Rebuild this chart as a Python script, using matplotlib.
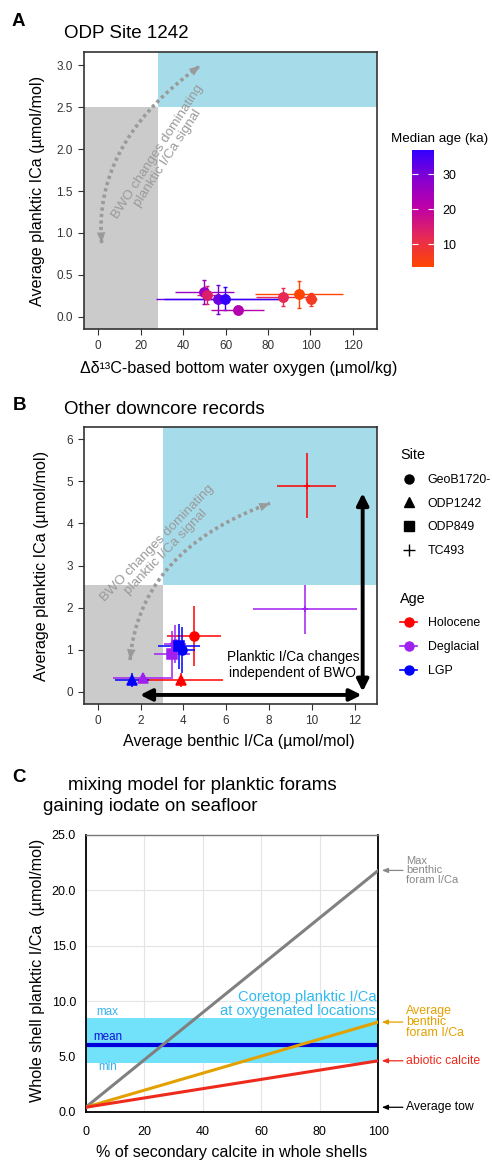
import numpy as np
import matplotlib.pyplot as plt
from matplotlib.colors import LinearSegmentedColormap, Normalize
from matplotlib.cm import ScalarMappable
from matplotlib.lines import Line2D
from matplotlib.patches import Rectangle

plt.rcParams['font.family'] = ['Liberation Sans', 'DejaVu Sans']

W, H = 492, 1160
fig = plt.figure(figsize=(W / 100, H / 100), dpi=100)


def box(l, t, r, b):
    return [l / W, 1 - b / H, (r - l) / W, (b - t) / H]


def fx(px):
    return px / W


def fy(py):
    return 1 - py / H


GRAY = '#cbcbcb'
BLUE = '#a6dcea'
CURVE = '#9a9a9a'
FRAME = '#333333'

# ---- panel A: ODP Site 1242
a_oxygen = [50.0, 51.4, 56.3, 59.9, 65.7, 87.2, 94.6, 100.2]
a_oxygen_err = [14, 5, 29, 29, 12.5, 13, 20.5, 3]
a_ica = [0.30, 0.26, 0.21, 0.22, 0.08, 0.24, 0.27, 0.21]
a_ica_err = [0.14, 0.11, 0.17, 0.14, 0.03, 0.11, 0.16, 0.08]
a_age = [26, 14, 31, 37, 22, 12, 3.5, 7]
a_bwo_thr = 28.2
a_ica_thr = 2.5

# ---- panel B: other downcore records
b_site = ['GeoB1720-', 'GeoB1720-', 'GeoB1720-', 'ODP1242', 'ODP1242', 'ODP1242',
          'ODP849', 'ODP849', 'TC493', 'TC493']
b_age = ['Holocene', 'Deglacial', 'LGP', 'Holocene', 'Deglacial', 'LGP',
         'Deglacial', 'LGP', 'Holocene', 'Deglacial']
b_benthic = [4.50, 3.62, 3.93, 3.87, 2.10, 1.59, 3.46, 3.80, 9.76, 9.69]
b_benthic_err = [1.27, 0.5, 0.6, 2.0, 1.4, 0.8, 0.85, 0.97, 1.37, 2.42]
b_planktic = [1.33, 1.15, 1.00, 0.28, 0.33, 0.28, 0.90, 1.08, 4.90, 1.96]
b_planktic_err = [0.72, 0.45, 0.55, 0.17, 0.1, 0.17, 0.55, 0.53, 0.77, 0.58]
b_benthic_thr = 3.07
b_planktic_thr = 2.55
site_names = ['GeoB1720-', 'ODP1242', 'ODP849', 'TC493']
site_markers = ['o', '^', 's', '+']
age_names = ['Holocene', 'Deglacial', 'LGP']
age_colors = ['#ff0000', '#a020f0', '#0000ff']

# ---- panel C: mixing model
secondary_pct = [0, 100]
tow = 0.4
max_benthic = 21.8
avg_benthic = 8.1
abiotic = 4.6
coretop_min, coretop_mean, coretop_max = 4.43, 6.05, 8.43


def style_box(ax):
    for s in ax.spines.values():
        s.set_color(FRAME)
        s.set_linewidth(1.2)
    ax.tick_params(direction='out', length=4, width=0.8, color=FRAME,
                   labelcolor='#333333', labelsize=8.5, pad=4)


def shade(ax, xthr, ythr):
    x0, x1 = ax.get_xlim()
    y0, y1 = ax.get_ylim()
    ax.add_patch(Rectangle((x0, y0), xthr - x0, ythr - y0, color=GRAY, lw=0, zorder=0))
    ax.add_patch(Rectangle((xthr, ythr), x1 - xthr, y1 - ythr, color=BLUE, lw=0, zorder=0))


def bezier(s, c, e, n=80):
    t = np.linspace(0, 1, n)[:, None]
    return (1 - t) ** 2 * np.array(s) + 2 * t * (1 - t) * np.array(c) + t ** 2 * np.array(e)


def dotted_curve(ax, s, c, e):
    pts = bezier(s, c, e)
    ax.plot(pts[:, 0], pts[:, 1], color=CURVE, lw=2.6, linestyle=(0, (0.9, 0.9)),
            dash_capstyle='butt', zorder=1)
    for a, b in [(pts[4], pts[0]), (pts[-5], pts[-1])]:
        ax.annotate('', xy=b, xytext=a,
                    arrowprops=dict(arrowstyle='-|>,head_length=0.55,head_width=0.22',
                                    color=CURVE, lw=0, mutation_scale=14,
                                    shrinkA=0, shrinkB=0), zorder=1)


# ================= panel A
ax_a = fig.add_axes(box(84, 52, 377, 329))
ax_a.set_xlim(-6.6, 131.3)
ax_a.set_ylim(-0.143, 3.155)
shade(ax_a, a_bwo_thr, a_ica_thr)
style_box(ax_a)
ax_a.set_xticks(range(0, 121, 20))
ax_a.set_yticks(np.arange(0, 3.01, 0.5))
ax_a.set_yticklabels([f'{v:.1f}' for v in np.arange(0, 3.01, 0.5)])

cmap = LinearSegmentedColormap.from_list('age', ['#ff4500', '#e62a55', '#bf00a6', '#8800d0', '#3300ff'])
norm = Normalize(min(a_age), max(a_age))
for x, xe, y, ye, age in zip(a_oxygen, a_oxygen_err, a_ica, a_ica_err, a_age):
    c = cmap(norm(age))
    ax_a.errorbar(x, y, xerr=xe, color=c, lw=1.0, capsize=0, zorder=2)
    ax_a.errorbar(x, y, yerr=ye, color=c, lw=1.0, capsize=1.5, capthick=1.0, zorder=2)
    ax_a.plot(x, y, 'o', color=c, ms=6.8, zorder=3)

dotted_curve(ax_a, (1.7, 0.88), (-2.3, 2.08), (48, 2.99))
ax_a.text(30.5, 1.93, 'BWO changes dominating\nplanktic I/Ca signal', rotation=57,
          ha='center', va='center', color=CURVE, fontsize=9.7, linespacing=1.05,
          rotation_mode='anchor')

cax = fig.add_axes(box(412, 150, 434, 266.7))
cb = fig.colorbar(ScalarMappable(norm, cmap), cax=cax, ticks=[10, 20, 30])
cb.outline.set_visible(False)
cax.yaxis.set_ticks_position('both')
cax.tick_params(direction='in', length=4, width=0.8, color='white',
                labelleft=False, labelright=True, labelsize=9, pad=6)
fig.text(fx(391), fy(139), 'Median age (ka)', fontsize=9.6, va='center', ha='left')

fig.text(fx(12), fy(21), 'A', fontsize=13.5, fontweight='bold', va='center')
fig.text(fx(64), fy(34), 'ODP Site 1242', fontsize=13.5, va='center')
fig.text(fx(37.5), fy(190.5), 'Average planktic ICa (µmol/mol)', rotation=90,
         ha='center', va='center', fontsize=11.6)
fig.text(fx(239), fy(368), 'Δδ¹³C-based bottom water oxygen (µmol/kg)',
         ha='center', va='center', fontsize=11.6)

# ================= panel B
ax_b = fig.add_axes(box(84, 427, 377, 704))
ax_b.set_xlim(-0.64, 13.05)
ax_b.set_ylim(-0.285, 6.29)
shade(ax_b, b_benthic_thr, b_planktic_thr)
style_box(ax_b)
ax_b.set_xticks(range(0, 13, 2))
ax_b.set_yticks(range(0, 7))

for site, age, x, xe, y, ye in zip(b_site, b_age, b_benthic, b_benthic_err,
                                   b_planktic, b_planktic_err):
    c = age_colors[age_names.index(age)]
    m = site_markers[site_names.index(site)]
    ax_b.errorbar(x, y, xerr=xe, yerr=ye, color=c, lw=1.1, capsize=0, zorder=2)
    ax_b.plot(x, y, m, color=c, ms=6.5 if m != '+' else 5, mew=1.1, zorder=3)

dotted_curve(ax_b, (1.51, 0.76), (1.98, 3.36), (8.05, 4.48))
ax_b.text(3.0, 3.42, 'BWO changes dominating\nplanktic I/Ca signal', rotation=46,
          ha='center', va='center', color=CURVE, fontsize=9.7, linespacing=1.05,
          rotation_mode='anchor')

ax_b.annotate('', xy=(1.98, -0.07), xytext=(12.33, -0.07),
              arrowprops=dict(arrowstyle='<|-|>,head_length=0.5,head_width=0.25',
                              color='black', lw=2.8, mutation_scale=14,
                              shrinkA=0, shrinkB=0))
ax_b.annotate('', xy=(12.38, 0.01), xytext=(12.38, 4.72),
              arrowprops=dict(arrowstyle='<|-|>,head_length=0.5,head_width=0.25',
                              color='black', lw=2.8, mutation_scale=14,
                              shrinkA=0, shrinkB=0))
ax_b.text(9.12, 0.64, 'Planktic I/Ca changes\nindependent of BWO', ha='center',
          va='center', fontsize=9.8, linespacing=1.15)

site_handles = [Line2D([], [], marker=m, color='black', linestyle='none',
                       ms=6.5 if m != '+' else 9, mew=1.0)
                for m in site_markers]
leg_kw = dict(loc='upper left', bbox_transform=fig.transFigure, frameon=False,
              borderpad=0, borderaxespad=0, fontsize=8.9, handlelength=1.4,
              handletextpad=0.85, labelspacing=0.95)
leg1 = ax_b.legend(site_handles, site_names, bbox_to_anchor=(fx(400), fy(474)), **leg_kw)
ax_b.add_artist(leg1)
age_handles = [Line2D([], [], marker='o', color=c, lw=1.2, ms=6.5) for c in age_colors]
ax_b.legend(age_handles, age_names, bbox_to_anchor=(fx(400), fy(617.5)), **leg_kw)
fig.text(fx(400), fy(455), 'Site', fontsize=10.4, va='center')
fig.text(fx(400), fy(599.3), 'Age', fontsize=10.4, va='center')

fig.text(fx(13), fy(406), 'B', fontsize=13.5, fontweight='bold', va='center')
fig.text(fx(64), fy(409), 'Other downcore records', fontsize=13.5, va='center')
fig.text(fx(42), fy(565.5), 'Average planktic ICa (µmol/mol)', rotation=90,
         ha='center', va='center', fontsize=11.6)
fig.text(fx(239), fy(741.7), 'Average benthic I/Ca (µmol/mol)',
         ha='center', va='center', fontsize=11.6)

# ================= panel C
ax_c = fig.add_axes(box(85.7, 835, 378.3, 1111.7))
ax_c.set_xlim(0, 100)
ax_c.set_ylim(0, 25)
ax_c.set_xticks(range(0, 101, 20))
yt = np.arange(0, 25.1, 5)
ax_c.set_yticks(yt)
ax_c.set_yticklabels([f'{v:.1f}' for v in yt])
ax_c.tick_params(length=0, labelsize=9, pad=7)
ax_c.tick_params(axis='x', pad=10)
ax_c.grid(color='#e4e4e4', lw=0.8)
ax_c.set_axisbelow(True)
for s in ['left', 'bottom', 'right']:
    ax_c.spines[s].set_color('black')
    ax_c.spines[s].set_linewidth(1.3)
ax_c.spines['top'].set_color('#777777')
ax_c.spines['top'].set_linewidth(1.0)

ax_c.axhspan(coretop_min, coretop_max, color='#72e1fa', lw=0, zorder=1)
ax_c.axhline(coretop_mean, color='#0000dd', lw=3, zorder=2)
ax_c.plot(secondary_pct, [tow, max_benthic], color='#808080', lw=2.2, zorder=3)
ax_c.plot(secondary_pct, [tow, avg_benthic], color='#e3a100', lw=2.2, zorder=3)
ax_c.plot(secondary_pct, [tow, abiotic], color='#ee2a1c', lw=2.2, zorder=3)

ax_c.text(7.4, coretop_max + 0.6, 'max', color='#35b0ee', fontsize=8.4, ha='center', va='center')
ax_c.text(7.6, coretop_mean + 0.7, 'mean', color='#1010dd', fontsize=8.4, ha='center', va='center')
ax_c.text(7.4, coretop_min - 0.35, 'min', color='#35b0ee', fontsize=8.4, ha='center', va='center')
ax_c.text(99.3, 9.75, 'Coretop planktic I/Ca\nat oxygenated locations', color='#2fbaf2',
          fontsize=10.6, ha='right', va='center', linespacing=1.0)

for val, label, col, fs in [(max_benthic, 'Max\nbenthic\nforam I/Ca', '#888888', 8.0),
                            (avg_benthic, 'Average\nbenthic\nforam I/Ca', '#e3a100', 8.9),
                            (abiotic, 'abiotic calcite', '#ee2a1c', 8.8),
                            (tow, 'Average tow', 'black', 8.8)]:
    ax_c.annotate('', xy=(101.2, val), xytext=(108.4, val), annotation_clip=False,
                  arrowprops=dict(arrowstyle='-|>,head_length=0.45,head_width=0.18',
                                  color=col, lw=0.9, mutation_scale=8,
                                  shrinkA=0, shrinkB=0))
    ax_c.text(109.5, val, label, color=col, fontsize=fs, ha='left', va='center',
              linespacing=0.9, clip_on=False)

fig.text(fx(12.7), fy(778), 'C', fontsize=13.5, fontweight='bold', va='center')
fig.text(fx(68), fy(785), 'mixing model for planktic forams', fontsize=13.5, va='center')
fig.text(fx(42.7), fy(806.7), 'gaining iodate on seafloor', fontsize=13.5, va='center')
fig.text(fx(37.5), fy(970), 'Whole shell planktic I/Ca  (µmol/mol)', rotation=90,
         ha='center', va='center', fontsize=11.6)
fig.text(fx(232), fy(1152.7), '% of secondary calcite in whole shells',
         ha='center', va='center', fontsize=11.6)

fig.savefig('out.png', dpi=100)
